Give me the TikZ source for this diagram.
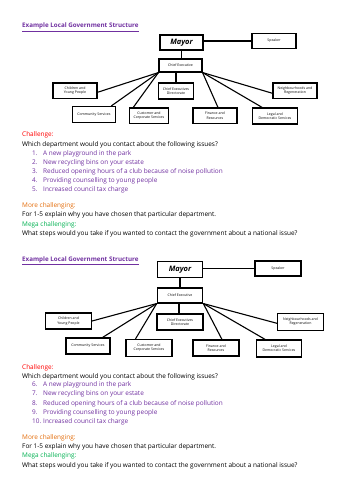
\documentclass[tikz,border=0pt]{standalone}
\usepackage{fontspec}
\setmainfont{Open Sans}
\definecolor{tpurple}{HTML}{7030A0}
\definecolor{cred}{HTML}{FF0000}
\definecolor{corange}{HTML}{E36C0A}
\definecolor{cgreen}{HTML}{00B050}
\begin{document}
\begin{tikzpicture}[x=1pt,y=-1pt,
  box/.style={draw, line width=1.1pt, inner sep=0pt, align=center, font=\fontsize{3.5}{4.3}\selectfont},
  bigbox/.style={box, font=\bfseries\itshape\fontsize{7.5}{8}\selectfont},
  link/.style={line width=1.1pt},
  title/.style={anchor=base west, inner sep=0pt, text=tpurple, font=\bfseries\fontsize{6.25}{7}\selectfont},
  txt/.style={anchor=base west, inner sep=0pt, font=\fontsize{6.45}{9}\selectfont},
  item/.style={txt, text=tpurple},
  num/.style={txt, text=tpurple}
]
\useasboundingbox (0,0) rectangle (354,500);

% ---------- first diagram ----------
\node[title] (title1) at (22,28) {\underline{Example Local Government Structure}};
\node[bigbox, minimum width=43pt, minimum height=15pt] (mayor1) at (181.5,42.5) {Mayor};
\node[box, minimum width=44pt, minimum height=15pt] (speaker1) at (274,41) {Speaker};
\node[box, minimum width=43pt, minimum height=13pt] (ce1) at (180.5,65.5) {Chief Executive};
\node[box, minimum width=34.5pt, minimum height=16pt] (dir1) at (176,91) {Chief Executives\\Directorate};
\node[box, minimum width=44pt, minimum height=15.5pt] (child1) at (75,90.8) {Children and\\Young People};
\node[box, minimum width=43.5pt, minimum height=16pt] (comm1) at (94,114.5) {Community Services};
\node[box, minimum width=39.5pt, minimum height=15.5pt] (cust1) at (149,115.8) {Customer and\\Corporate Services};
\node[box, minimum width=44pt, minimum height=15.5pt] (fin1) at (215,115.8) {Finance and\\Resources};
\node[box, minimum width=44.5pt, minimum height=16pt] (legal1) at (275,116) {Legal and\\Democratic Services};
\node[box, minimum width=44pt, minimum height=15.5pt] (neigh1) at (295,90.8) {Neighbourhoods and\\Regeneration};

\draw[link] (mayor1.east |- speaker1.west) -- (speaker1.west);
\draw[link] (mayor1.south) -- (mayor1.south |- ce1.north);
\draw[link] (ce1.south -| dir1.north) -- (dir1.north);
\draw[link] (ce1.south west) -- ([yshift=-1.5pt]child1.east);
\draw[link] (ce1.south west) -- ([xshift=-5pt]comm1.north east);
\draw[link] (ce1.south west) -- ([xshift=4.5pt]cust1.north west);
\draw[link] (ce1.south east) -- ([xshift=3pt]fin1.north);
\draw[link] (ce1.south east) -- ([xshift=10pt]legal1.north west);
\draw[link] (ce1.south east) -- ([yshift=-2.5pt]neigh1.west);

% ---------- first text block ----------
\node[txt, text=cred] (ch1) at (22,136) {Challenge:};
\node[txt] (q1) at (22,146) {Which department would you contact about the following issues?};
\node[num] (n1) at (32,155.3) {1.};
\node[item] (i1) at (43,155.3) {A new playground in the park};
\node[num] (n2) at (32,164.3) {2.};
\node[item] (i2) at (43,164.3) {New recycling bins on your estate};
\node[num] (n3) at (32,173) {3.};
\node[item] (i3) at (43,173) {Reduced opening hours of a club because of noise pollution};
\node[num] (n4) at (32,182) {4.};
\node[item] (i4) at (43,182) {Providing counselling to young people};
\node[num] (n5) at (32,191) {5.};
\node[item] (i5) at (43,191) {Increased council tax charge};
\node[txt, text=corange] (mc1) at (22,207) {More challenging:};
\node[txt] (e1) at (22,216.3) {For 1-5 explain why you have chosen that particular department.};
\node[txt, text=cgreen] (mg1) at (22,226) {Mega challenging:};
\node[txt] (w1) at (22,235.3) {What steps would you take if you wanted to contact the government about a national issue?};

% ---------- second diagram ----------
\node[title] (title2) at (22,261) {\underline{Example Local Government Structure}};
\node[bigbox, minimum width=45.5pt, minimum height=16pt] (mayor2) at (180,269.5) {Mayor};
\node[box, minimum width=46pt, minimum height=15pt] (speaker2) at (278,268.5) {Speaker};
\node[box, minimum width=45.5pt, minimum height=15pt] (ce2) at (180,295.5) {Chief Executive};
\node[box, minimum width=46pt, minimum height=16pt] (dir2) at (180,322) {Chief Executives\\Directorate};
\node[box, minimum width=46pt, minimum height=16pt] (child2) at (68.5,321) {Children and\\Young People};
\node[box, minimum width=44pt, minimum height=16pt] (comm2) at (88,346) {Community Services};
\node[box, minimum width=46pt, minimum height=16.5pt] (cust2) at (149,347.8) {Customer and\\Corporate Services};
\node[box, minimum width=46pt, minimum height=16pt] (fin2) at (216,348) {Finance and\\Resources};
\node[box, minimum width=45.5pt, minimum height=17pt] (legal2) at (279,348.5) {Legal and\\Democratic Services};
\node[box, minimum width=46pt, minimum height=16.5pt] (neigh2) at (300.5,321.8) {Neighbourhoods and\\Regeneration};

\draw[link] (mayor2.east |- speaker2.west) -- (speaker2.west);
\draw[link] (mayor2.south) -- (mayor2.south |- ce2.north);
\draw[link] ([xshift=-1pt]ce2.south) -- ([xshift=-1pt]dir2.north);
\draw[link] (ce2.south west) -- (child2.east);
\draw[link] (ce2.south west) -- ([xshift=-8pt]comm2.north east);
\draw[link] (ce2.south west) -- ([xshift=10pt]cust2.north west);
\draw[link] (ce2.south east) -- ([xshift=6pt]fin2.north);
\draw[link] (ce2.south east) -- ([xshift=9.5pt]legal2.north west);
\draw[link] (ce2.south east) -- ([yshift=-1.5pt]neigh2.west);

% ---------- second text block ----------
\node[txt, text=cred] (ch2) at (22,369) {Challenge:};
\node[txt] (q2) at (22,378) {Which department would you contact about the following issues?};
\node[num] (n6) at (32,386.3) {6.};
\node[item] (i6) at (43,386.3) {A new playground in the park};
\node[num] (n7) at (32,395.7) {7.};
\node[item] (i7) at (43,395.7) {New recycling bins on your estate};
\node[num] (n8) at (32,405) {8.};
\node[item] (i8) at (43,405) {Reduced opening hours of a club because of noise pollution};
\node[num] (n9) at (32,414) {9.};
\node[item] (i9) at (43,414) {Providing counselling to young people};
\node[num] (n10) at (32,423) {10.};
\node[item] (i10) at (43,423) {Increased council tax charge};
\node[txt, text=corange] (mc2) at (22,439.3) {More challenging:};
\node[txt] (e2) at (22,448.7) {For 1-5 explain why you have chosen that particular department.};
\node[txt, text=cgreen] (mg2) at (22,457.7) {Mega challenging:};
\node[txt] (w2) at (22,467) {What steps would you take if you wanted to contact the government about a national issue?};
\end{tikzpicture}
\end{document}
